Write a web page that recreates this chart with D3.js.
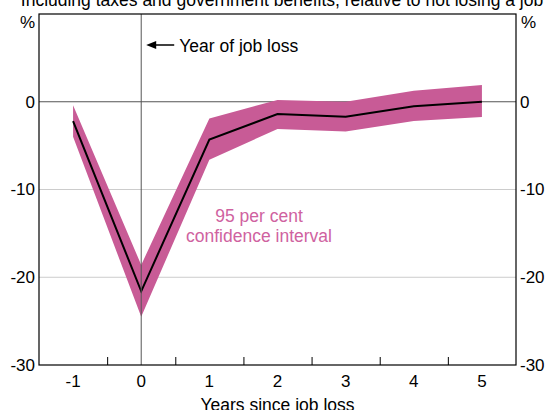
<!DOCTYPE html>
<html>
<head>
<meta charset="utf-8">
<script src="https://cdn.jsdelivr.net/npm/d3@7"></script>
<style>
  html, body { margin: 0; padding: 0; background: #fff; }
  svg { display: block; font-family: Arial, "Liberation Sans", sans-serif; }
</style>
</head>
<body>
<svg id="chart" width="550" height="410"></svg>
<script>
// Years relative to the year of job loss
const years = [-1, 0, 1, 2, 3, 4, 5];
// Estimated change in income (%), with the 95 per cent confidence band
const estimate = [-2.2, -21.6, -4.3, -1.4, -1.7, -0.5, 0.0];
const upperBound = [-0.4, -18.6, -1.9, 0.2, 0.0, 1.25, 1.9];
const lowerBound = [-4.0, -24.5, -6.6, -3.1, -3.4, -2.2, -1.75];
// Axis ticks
const yTicks = [0, -10, -20, -30];
const xTickLabels = [-1, 0, 1, 2, 3, 4, 5];
const xMinorTicks = [-0.5, 0.5, 1.5, 2.5, 3.5, 4.5];

const bandColor = "#c85b96";
const labelPink = "#cf62a0";
const fontSize = 17.5;
const tickFontSize = 17;

const svg = d3.select("#chart");
const plotLeft = 39, plotRight = 516, plotTop = 14, plotBottom = 365;

const x = d3.scaleLinear().domain([-1.5, 5.5]).range([plotLeft, plotRight]);
const y = d3.scaleLinear().domain([-30, 10]).range([plotBottom, plotTop]);

const rows = years.map((yr, i) => ({ yr, est: estimate[i], lo: lowerBound[i], hi: upperBound[i] }));

// Title (runs off the top edge)
svg.append("text")
  .attr("x", 282).attr("y", 6)
  .attr("text-anchor", "middle")
  .attr("font-size", fontSize)
  .text("Including taxes and government benefits, relative to not losing a job");

// Horizontal gridlines
svg.append("g").selectAll("line")
  .data(yTicks.filter(v => v !== 0 && v !== -30))
  .join("line")
  .attr("x1", plotLeft).attr("x2", plotRight)
  .attr("y1", d => y(d)).attr("y2", d => y(d))
  .attr("stroke", "#cccccc").attr("stroke-width", 1);

// Zero line
svg.append("line")
  .attr("x1", plotLeft).attr("x2", plotRight)
  .attr("y1", y(0)).attr("y2", y(0))
  .attr("stroke", "#555").attr("stroke-width", 1);

// Confidence band
const area = d3.area()
  .x(d => x(d.yr))
  .y0(d => y(d.lo))
  .y1(d => y(d.hi));
svg.append("path")
  .datum(rows)
  .attr("d", area)
  .attr("fill", bandColor);

// Point estimate line
const line = d3.line().x(d => x(d.yr)).y(d => y(d.est));
svg.append("path")
  .datum(rows)
  .attr("d", line)
  .attr("fill", "none")
  .attr("stroke", "#000")
  .attr("stroke-width", 2);

// Vertical marker at the year of job loss
svg.append("line")
  .attr("x1", x(0)).attr("x2", x(0))
  .attr("y1", plotTop).attr("y2", plotBottom)
  .attr("stroke", "#555").attr("stroke-width", 1);

// Frame
svg.append("rect")
  .attr("x", plotLeft).attr("y", plotTop)
  .attr("width", plotRight - plotLeft).attr("height", plotBottom - plotTop)
  .attr("fill", "none").attr("stroke", "#000").attr("stroke-width", 1.2);

// Bottom axis: minor ticks between years, labels at each year
const xAxis = d3.axisBottom(x)
  .tickValues(xMinorTicks)
  .tickSizeInner(-8).tickSizeOuter(0)
  .tickFormat("");
const gx = svg.append("g").attr("transform", `translate(0,${plotBottom})`).call(xAxis);
gx.select(".domain").remove();
gx.selectAll(".tick line").attr("stroke", "#000");

svg.append("g").selectAll("text")
  .data(xTickLabels)
  .join("text")
  .attr("x", d => x(d))
  .attr("y", 387)
  .attr("text-anchor", "middle")
  .attr("font-size", tickFontSize)
  .text(d => String(d));

svg.append("text")
  .attr("x", (plotLeft + plotRight) / 2).attr("y", 411)
  .attr("text-anchor", "middle")
  .attr("font-size", fontSize)
  .text("Years since job loss");

// Left and right value axes (plain hyphen for negatives)
const yAxisL = d3.axisLeft(y).tickValues(yTicks).tickSize(0).tickPadding(4)
  .tickFormat(d => String(d));
const gyl = svg.append("g").attr("transform", `translate(${plotLeft},0)`).call(yAxisL);
const yAxisR = d3.axisRight(y).tickValues(yTicks).tickSize(0).tickPadding(4)
  .tickFormat(d => String(d));
const gyr = svg.append("g").attr("transform", `translate(${plotRight},0)`).call(yAxisR);
[gyl, gyr].forEach(g => {
  g.select(".domain").remove();
  g.selectAll("text").attr("font-size", tickFontSize).attr("fill", "#000")
    .attr("font-family", "Arial, 'Liberation Sans', sans-serif");
});

// Unit labels
svg.append("text").attr("x", plotLeft - 4).attr("y", 28)
  .attr("text-anchor", "end").attr("font-size", tickFontSize).text("%");
svg.append("text").attr("x", plotRight + 5).attr("y", 28)
  .attr("text-anchor", "start").attr("font-size", tickFontSize).text("%");

// Annotation: year of job loss, with a left-pointing arrow
const arrowY = 45;
const arrowTip = x(0) + 5;
svg.append("line")
  .attr("x1", arrowTip + 8).attr("x2", arrowTip + 28)
  .attr("y1", arrowY).attr("y2", arrowY)
  .attr("stroke", "#000").attr("stroke-width", 1.5);
svg.append("path")
  .attr("d", d3.line()([[arrowTip, arrowY], [arrowTip + 10, arrowY - 4], [arrowTip + 10, arrowY + 4]]) + "Z")
  .attr("fill", "#000");
svg.append("text")
  .attr("x", arrowTip + 33).attr("y", arrowY + 6.5)
  .attr("font-size", fontSize)
  .text("Year of job loss");

// Annotation: confidence band
const ci = svg.append("text")
  .attr("text-anchor", "middle")
  .attr("font-size", fontSize)
  .attr("fill", labelPink);
ci.append("tspan").attr("x", 259).attr("y", 222).text("95 per cent");
ci.append("tspan").attr("x", 259).attr("y", 242).text("confidence interval");
</script>
</body>
</html>
